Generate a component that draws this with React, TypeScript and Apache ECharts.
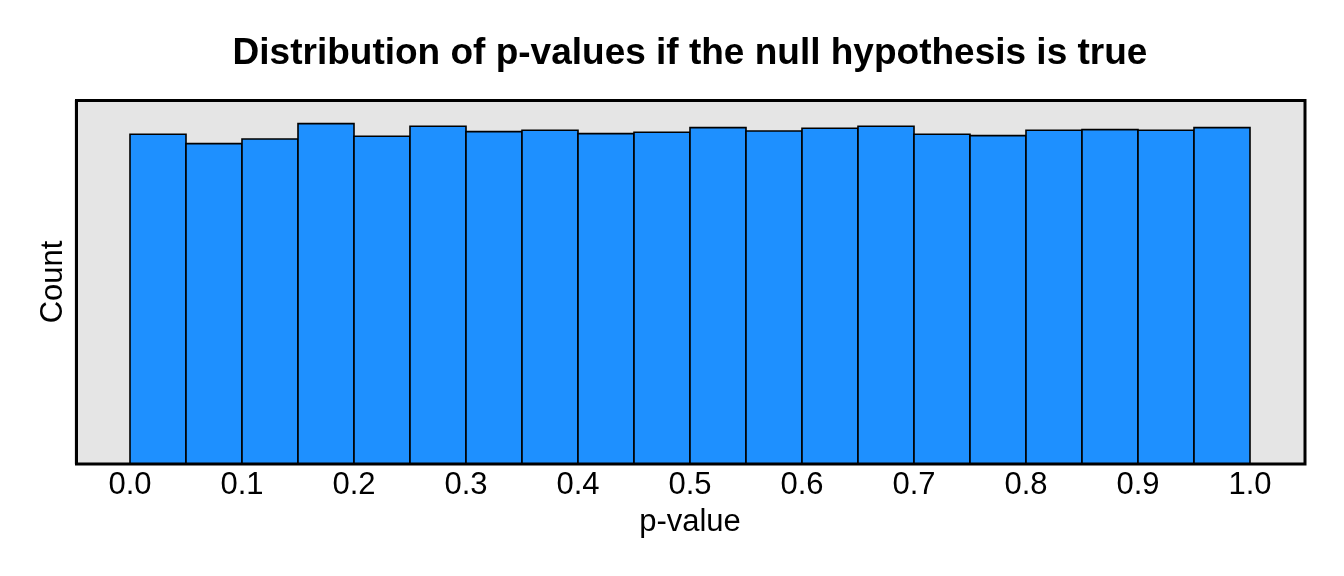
import { useEffect, useRef } from "react";
import * as echarts from "echarts";

// histogram of 10000 p-values, 20 bins of width 0.05
const binStarts = [
  0, 0.05, 0.1, 0.15, 0.2, 0.25, 0.3, 0.35, 0.4, 0.45, 0.5, 0.55, 0.6, 0.65,
  0.7, 0.75, 0.8, 0.85, 0.9, 0.95,
];
const binEnds = [
  0.05, 0.1, 0.15, 0.2, 0.25, 0.3, 0.35, 0.4, 0.45, 0.5, 0.55, 0.6, 0.65, 0.7,
  0.75, 0.8, 0.85, 0.9, 0.95, 1,
];
const counts = [
  496, 482, 489, 512, 493, 508, 500, 502, 497, 499, 506, 501, 505, 508, 496,
  494, 502, 503, 502, 506,
];
const tickValues = [0, 0.1, 0.2, 0.3, 0.4, 0.5, 0.6, 0.7, 0.8, 0.9, 1];

const FONT = "'Liberation Sans', Arial, sans-serif";

export default function App() {
  const reference = useRef<HTMLDivElement>(null);

  useEffect(() => {
    const element = reference.current;
    if (element === null) return;
    const chart = echarts.init(element, undefined, { renderer: "svg" });
    chart.setOption({
      animation: false,
      grid: {
        left: 74,
        right: 38,
        top: 100,
        bottom: 112,
        show: true,
        backgroundColor: "#e5e5e5",
        borderWidth: 0,
      },
      graphic: [
        {
          type: "text",
          x: 690,
          y: 51,
          style: {
            text: "Distribution of p-values if the null hypothesis is true",
            textAlign: "center",
            textVerticalAlign: "middle",
            fontFamily: FONT,
            fontWeight: "bold",
            fontSize: 37,
            fill: "#000",
          },
        },
        {
          type: "rect",
          z: 100,
          shape: { x: 76.5, y: 100.5, width: 1228.5, height: 363.5 },
          style: { fill: "none", stroke: "#000", lineWidth: 3 },
        },
      ],
      xAxis: {
        type: "value",
        min: -0.05,
        max: 1.05,
        name: "p-value",
        nameLocation: "middle",
        nameGap: 41,
        nameTextStyle: { fontFamily: FONT, fontSize: 31, color: "#000" },
        axisLine: { show: false },
        axisTick: { show: false },
        splitLine: { show: false },
        axisLabel: {
          customValues: tickValues,
          formatter: (value: number) => value.toFixed(1),
          fontFamily: FONT,
          fontSize: 31,
          color: "#000",
          margin: 4,
        },
      },
      yAxis: {
        type: "value",
        min: 0,
        max: 547.6,
        name: "Count",
        nameLocation: "middle",
        nameGap: 7,
        nameTextStyle: { fontFamily: FONT, fontSize: 31, color: "#000" },
        axisLine: { show: false },
        axisTick: { show: false },
        axisLabel: { show: false },
        splitLine: { show: false },
      },
      series: [
        {
          type: "custom",
          encode: { x: [0, 1], y: 2 },
          data: binStarts.map((start, i) => [start, binEnds[i], counts[i]]),
          renderItem: (_params: any, api: any) => {
            const topLeft = api.coord([api.value(0), api.value(2)]);
            const bottomRight = api.coord([api.value(1), 0]);
            return {
              type: "rect",
              shape: {
                x: topLeft[0],
                y: topLeft[1],
                width: bottomRight[0] - topLeft[0],
                height: bottomRight[1] - topLeft[1],
              },
              style: { fill: "#1e90ff", stroke: "#000", lineWidth: 1.6 },
            };
          },
        },
      ],
    });
    return () => chart.dispose();
  }, []);

  return (
    <div
      ref={reference}
      style={{ position: "fixed", left: 0, top: 0, width: 1344, height: 576 }}
    />
  );
}
